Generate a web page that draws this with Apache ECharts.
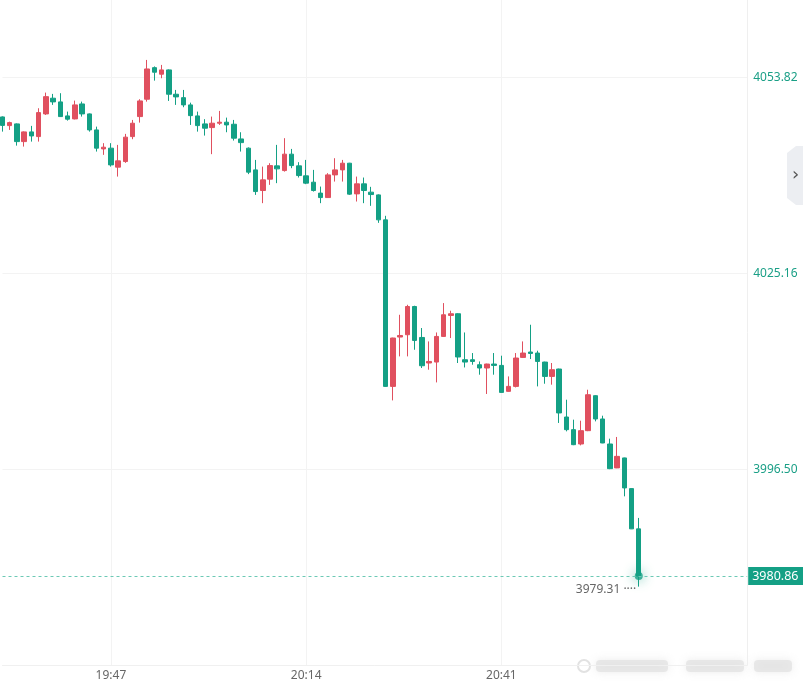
<!DOCTYPE html>
<html><head><meta charset="utf-8">
<script src="https://cdn.jsdelivr.net/npm/echarts@6/dist/echarts.min.js"></script>
<style>html,body{margin:0;padding:0;background:#fff}#c{width:803px;height:684px}</style>
</head><body><div id="c"></div>
<script>
// minute categories 19:32 .. 21:15
const categories = [];
for (let i = 0; i < 104; i++) {
  const m = 19 * 60 + 32 + i;
  categories.push(String(Math.floor(m / 60)).padStart(2, '0') + ':' + String(m % 60).padStart(2, '0'));
}
const xTickLabels = ['19:47', '20:14', '20:41'];
const yTickValues = [3996.50, 4025.16, 4053.82];
const lastPrice = 3980.86;
const lowPrice = 3979.31;

const opens = [4048.04,4046.77,4047.02,4044.43,4045.85,4045.16,4048.48,4050.78,4050.24,4048.19,4047.75,4049.94,4048.48,4046.14,4043.36,4043.47,4040.69,4041.51,4045.16,4048.09,4050.63,4055.25,4054.29,4054.92,4051.36,4050.86,4049.80,4048.19,4047.02,4046.48,4047.12,4047.27,4046.97,4044.82,4043.47,4040.29,4037.27,4038.93,4040.88,4040.19,4042.59,4040.88,4039.42,4038.49,4036.89,4036.24,4039.56,4040.29,4041.27,4036.78,4038.25,4037.03,4036.63,4032.98,4008.61,4015.83,4016.17,4020.30,4015.77,4012.03,4012.17,4015.92,4018.99,4019.24,4012.51,4012.51,4011.78,4011.30,4011.88,4011.68,4007.88,4008.61,4012.85,4013.64,4013.49,4012.17,4010.07,4011.15,4004.13,4002.28,4000.18,4002.13,4007.25,4003.84,4000.18,3996.68,3998.14,3993.65,3987.76];
const closes = [4046.80,4047.21,4044.43,4045.85,4045.26,4048.67,4051.01,4050.24,4048.09,4047.71,4049.80,4048.48,4046.14,4043.47,4043.61,4041.02,4041.61,4045.08,4047.12,4050.38,4055.06,4054.58,4054.92,4051.36,4050.97,4049.80,4048.23,4046.77,4046.39,4047.12,4047.27,4046.87,4044.93,4044.28,4039.96,4037.12,4038.83,4040.92,4040.44,4042.59,4040.92,4039.46,4038.35,4037.27,4036.24,4039.56,4040.29,4041.27,4036.74,4038.25,4037.27,4036.68,4032.98,4008.61,4015.69,4016.06,4020.30,4015.33,4011.63,4012.26,4015.92,4019.09,4019.24,4012.91,4012.17,4012.26,4011.30,4011.88,4011.68,4007.73,4008.61,4012.76,4013.49,4013.43,4012.26,4010.07,4011.05,4004.72,4002.28,4000.08,4002.13,4007.39,4003.84,4000.33,3996.57,3998.37,3993.75,3987.76,3980.86];
const lows = [4045.89,4046.14,4043.84,4043.70,4044.43,4044.43,4048.33,4049.80,4048.04,4047.50,4047.68,4048.09,4045.89,4042.97,4042.49,4040.77,4039.31,4041.32,4044.78,4047.21,4050.28,4053.35,4053.70,4050.38,4049.80,4049.46,4046.87,4045.89,4045.31,4042.59,4046.87,4045.80,4044.58,4042.97,4039.67,4036.63,4035.42,4038.10,4038.35,4040.04,4040.54,4039.17,4038.20,4037.12,4035.42,4036.20,4038.58,4038.58,4036.63,4035.66,4035.42,4035.03,4032.54,4008.56,4006.56,4013.00,4013.00,4013.97,4011.30,4011.05,4009.19,4015.87,4015.68,4012.03,4011.38,4011.78,4010.32,4007.50,4010.32,4007.69,4007.83,4008.46,4012.76,4012.61,4008.61,4009.00,4008.86,4003.26,4002.03,4000.01,3999.98,4002.06,4003.49,4000.30,3996.50,3996.65,3992.52,3987.73,3979.31];
const highs = [4048.12,4047.35,4047.09,4045.92,4046.73,4049.31,4051.60,4051.41,4051.51,4048.82,4050.43,4050.28,4048.55,4046.62,4044.20,4044.20,4043.95,4045.56,4047.60,4050.63,4056.38,4055.43,4055.65,4054.99,4051.99,4051.99,4050.13,4048.82,4047.71,4048.09,4048.92,4047.94,4047.60,4045.80,4043.58,4041.75,4040.77,4041.27,4043.95,4044.93,4043.36,4041.42,4041.75,4040.29,4037.85,4039.81,4042.00,4041.75,4041.32,4039.31,4039.17,4037.81,4036.71,4033.57,4015.73,4019.09,4020.55,4020.41,4017.15,4015.19,4016.50,4020.80,4019.68,4019.31,4016.50,4013.49,4012.26,4011.93,4013.49,4013.10,4010.07,4013.49,4015.19,4017.63,4013.83,4012.22,4012.03,4011.20,4006.66,4003.74,4003.59,4008.12,4007.32,4004.32,4000.96,4001.21,3998.18,3993.68,3989.36];

const UP = '#e0505f';
const DOWN = '#14a085';
const kdata = opens.map((o, i) => [o, closes[i], lows[i], highs[i]]);
const lastIdx = kdata.length - 1;
const isTick = (i, v) => xTickLabels.indexOf(v) >= 0;

const chart = echarts.init(document.getElementById('c'), null, { renderer: 'canvas' });
chart.setOption({
  animation: false,
  backgroundColor: '#fff',
  textStyle: { fontFamily: '"Noto Sans", "Open Sans", sans-serif' },
  grid: { left: 2.5, right: 55.8, top: 0, bottom: 19, containLabel: false },
  xAxis: {
    type: 'category', data: categories, boundaryGap: false,
    axisLine: { show: true, lineStyle: { color: '#f0f0f0' } },
    axisTick: { show: false },
    axisLabel: { interval: isTick, color: '#666', fontSize: 12, margin: 5 },
    splitLine: { show: true, interval: isTick, lineStyle: { color: '#f3f3f3' } }
  },
  yAxis: {
    type: 'value', position: 'right', min: 3967.84, max: 4065.15, scale: true,
    axisLine: { show: true, lineStyle: { color: '#efefef' } },
    axisTick: { show: false, customValues: yTickValues },
    axisLabel: { customValues: yTickValues, color: '#1a9f86', fontSize: 12, margin: 6, padding: [5, 0, 0, 0], formatter: v => v.toFixed(2) },
    splitLine: { show: true, lineStyle: { color: '#f3f3f3' } }
  },
  series: [
    {
      type: 'candlestick', data: kdata, barWidth: 5,
      itemStyle: { color: UP, color0: DOWN, borderColor: UP, borderColor0: DOWN, borderWidth: 1 },
      markLine: {
        silent: true, symbol: 'none', animation: false,
        lineStyle: { type: [3, 3], color: '#6cc9b5', width: 1 },
        label: {
          position: 'end', distance: 1, formatter: () => lastPrice.toFixed(2),
          backgroundColor: DOWN, color: '#fff', fontSize: 12.5, padding: [3, 5, 2, 4]
        },
        data: [{ yAxis: lastPrice }]
      },
      markPoint: {
        silent: true, symbol: 'circle', symbolSize: 1, animation: false,
        itemStyle: { color: 'rgba(0,0,0,0)' },
        label: { show: true, position: 'left', distance: 2, color: '#666', fontSize: 12, formatter: () => lowPrice.toFixed(2) + ' ····', offset: [0, 3] },
        data: [{ coord: [categories[lastIdx], lowPrice] }]
      }
    },
    {
      type: 'scatter', silent: true, symbolSize: 8,
      itemStyle: { color: DOWN, shadowBlur: 12, shadowColor: 'rgba(20,160,133,1)' },
      data: [[categories[lastIdx], lastPrice]]
    }
  ],
  graphic: [
    { type: 'polygon', shape: { points: [[803, 146], [796, 146], [787, 153], [787, 198], [796, 205], [803, 205]] }, style: { fill: '#eceef2' } },
    { type: 'text', x: 792, y: 166, style: { text: '›', fill: '#555', fontSize: 18, fontFamily: 'DejaVu Sans' } },
    { type: 'circle', shape: { cx: 584, cy: 666, r: 6 }, style: { fill: 'none', stroke: '#e2e2e2', lineWidth: 2 } },
    { type: 'rect', shape: { x: 596, y: 660, width: 72, height: 12, r: 4 }, style: { fill: 'rgba(225,225,225,0.7)', shadowBlur: 8, shadowColor: 'rgba(225,225,225,0.9)' } },
    { type: 'rect', shape: { x: 686, y: 660, width: 58, height: 12, r: 4 }, style: { fill: 'rgba(225,225,225,0.7)', shadowBlur: 8, shadowColor: 'rgba(225,225,225,0.9)' } },
    { type: 'rect', shape: { x: 754, y: 660, width: 38, height: 12, r: 4 }, style: { fill: 'rgba(225,225,225,0.7)', shadowBlur: 8, shadowColor: 'rgba(225,225,225,0.9)' } }
  ]
});
</script></body></html>
